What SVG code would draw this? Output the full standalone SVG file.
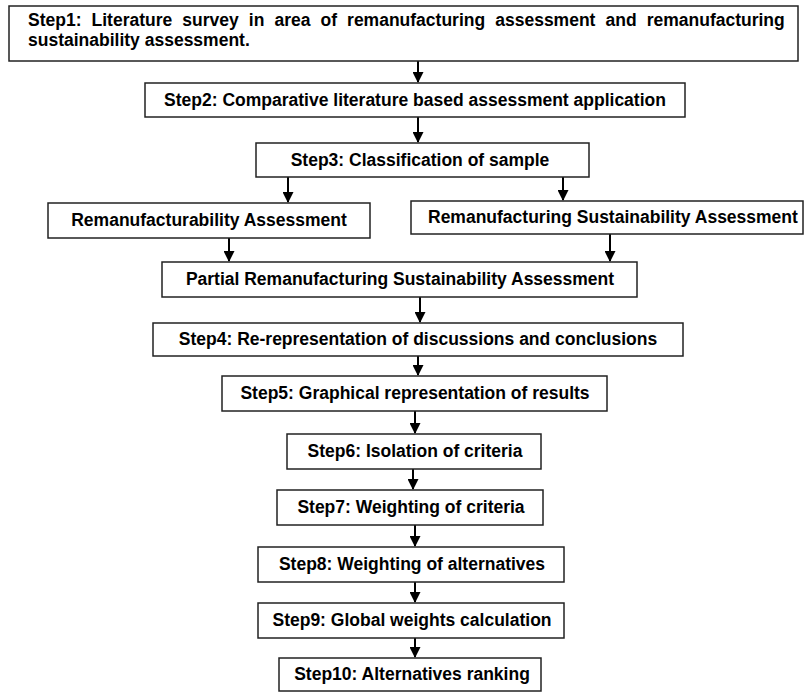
<svg xmlns="http://www.w3.org/2000/svg" width="804" height="692" viewBox="0 0 804 692">
<style>
.box{fill:#fff;stroke:#222;stroke-width:1.5}
.t{font-family:"Liberation Sans",Arial,sans-serif;font-weight:bold;font-size:17.5px;fill:#000;text-anchor:middle}
.n{font-family:"Liberation Sans",Arial,sans-serif;font-weight:bold;font-size:17.5px;fill:#000}
.c{stroke:#000;stroke-width:2;fill:none}
</style>
<defs>
<marker id="ah" markerWidth="11" markerHeight="11" refX="10" refY="5.5" orient="auto" markerUnits="userSpaceOnUse" viewBox="0 0 11 11">
<path d="M0,0 L11,5.5 L0,11 Z" fill="#000"/>
</marker>
</defs>
<rect width="804" height="692" fill="#fff"/>
<g id="connectors">
<path class="c" d="M418,61 V82" marker-end="url(#ah)"/>
<path class="c" d="M418,117 V142" marker-end="url(#ah)"/>
<path class="c" d="M288,177 V202" marker-end="url(#ah)"/>
<path class="c" d="M563,177 V200" marker-end="url(#ah)"/>
<path class="c" d="M229,238 V261" marker-end="url(#ah)"/>
<path class="c" d="M610,234 V261" marker-end="url(#ah)"/>
<path class="c" d="M420,297 V322" marker-end="url(#ah)"/>
<path class="c" d="M418,356 V375" marker-end="url(#ah)"/>
<path class="c" d="M415,411 V433" marker-end="url(#ah)"/>
<path class="c" d="M413,469 V489" marker-end="url(#ah)"/>
<path class="c" d="M415,525 V546" marker-end="url(#ah)"/>
<path class="c" d="M415,582 V602" marker-end="url(#ah)"/>
<path class="c" d="M415,638 V657" marker-end="url(#ah)"/>
</g>
<g id="step1"><rect class="box" x="9" y="6" width="789" height="55"/>
<text class="n" x="28" y="26" word-spacing="5.2">Step1: Literature survey in area of remanufacturing assessment and remanufacturing</text>
<text class="n" x="28" y="46">sustainability assessment.</text></g>
<g id="step2"><rect class="box" x="145" y="83" width="540" height="34"/><text class="t" x="415" y="106">Step2: Comparative literature based assessment application</text></g>
<g id="step3"><rect class="box" x="256" y="143" width="333" height="34"/><text class="t" x="420" y="166">Step3: Classification of sample</text></g>
<g id="remanufacturability"><rect class="box" x="48" y="203" width="322" height="35"/><text class="t" x="209" y="226">Remanufacturability Assessment</text></g>
<g id="sustainability"><rect class="box" x="411" y="201" width="392" height="33"/><text class="n" x="428" y="223">Remanufacturing Sustainability Assessment</text></g>
<g id="partial"><rect class="box" x="162" y="262" width="475" height="35"/><text class="t" x="400" y="285">Partial Remanufacturing Sustainability Assessment</text></g>
<g id="step4"><rect class="box" x="153" y="323" width="530" height="33"/><text class="t" x="418" y="345">Step4: Re-representation of discussions and conclusions</text></g>
<g id="step5"><rect class="box" x="222" y="376" width="385" height="35"/><text class="t" x="415" y="399">Step5: Graphical representation of results</text></g>
<g id="step6"><rect class="box" x="287" y="434" width="254" height="35"/><text class="t" x="415" y="457">Step6: Isolation of criteria</text></g>
<g id="step7"><rect class="box" x="277" y="490" width="266" height="35"/><text class="t" x="411" y="513">Step7: Weighting of criteria</text></g>
<g id="step8"><rect class="box" x="258" y="547" width="306" height="35"/><text class="t" x="412" y="570">Step8: Weighting of alternatives</text></g>
<g id="step9"><rect class="box" x="258" y="603" width="306" height="35"/><text class="t" x="412" y="626">Step9: Global weights calculation</text></g>
<g id="step10"><rect class="box" x="279" y="658" width="262" height="33"/><text class="t" x="412" y="680">Step10: Alternatives ranking</text></g>
</svg>
